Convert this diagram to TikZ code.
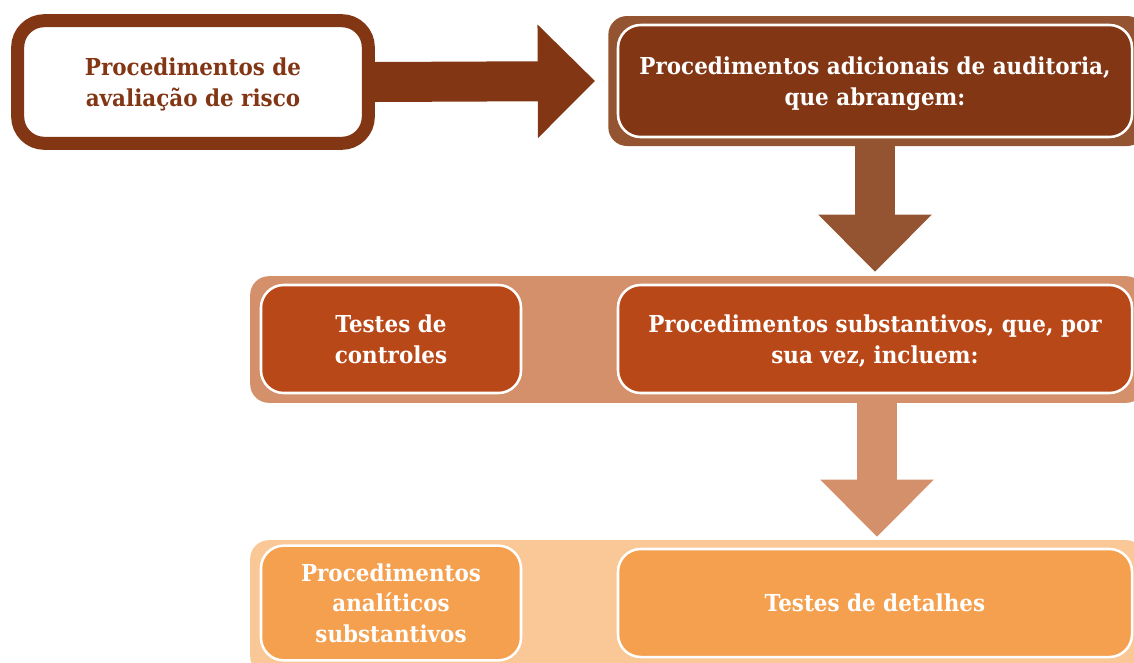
\documentclass[tikz,border=0pt]{standalone}
\usepackage{fontspec}
\setmainfont{DejaVu Serif}[FakeStretch=0.92]
\usetikzlibrary{arrows.meta,calc}
\definecolor{dbrown}{HTML}{823614}
\definecolor{fbrown}{HTML}{955431}
\definecolor{salmon}{HTML}{D4906A}
\definecolor{rust}{HTML}{B94819}
\definecolor{peach}{HTML}{F9C896}
\definecolor{orng}{HTML}{F4A04F}
\tikzset{
  txt/.style={align=center,font=\fontsize{17.5}{23}\selectfont\bfseries,text depth=0pt},
  frame/.style={rectangle,rounded corners=14,inner sep=0pt},
  inbox/.style={rectangle,rounded corners=17,draw=white,line width=1.9pt,inner sep=0pt,text=white,txt},
  blockarrow/.style={line width=30pt,-{Triangle[length=43pt,width=82.5pt]}},
}
\begin{document}
\begin{tikzpicture}[x=0.75pt,y=-0.75pt]
\clip (0,0) rectangle (1134,662);
\fill[white] (0,0) rectangle (1134,662);
% box 1
\node[rectangle,rounded corners=20,draw=dbrown,fill=white,line width=9.75pt,
      minimum width=263pt,minimum height=92pt,inner sep=0pt,txt,text=dbrown]
  (b1) at (193,82) {Procedimentos de\\avaliação de risco};
% box 2
\node[frame,fill=fbrown,minimum width=403pt,minimum height=97.5pt] (f2) at (877,81) {};
\node[inbox,fill=dbrown,minimum width=385.5pt,minimum height=84pt] (b2) at (875,81)
  {Procedimentos adicionais de auditoria,\\que abrangem:};
% row 2
\node[frame,fill=salmon,minimum width=671pt,minimum height=95pt] (r2) at (697.5,339.5) {};
\node[inbox,fill=rust,minimum width=195pt,minimum height=81pt] (c1) at (391,339) {Testes de\\controles};
\node[inbox,fill=rust,minimum width=385.5pt,minimum height=81pt] (c2) at (875,339)
  {Procedimentos substantivos, que, por\\sua vez, incluem:};
% row 3
\node[frame,fill=peach,minimum width=671pt,minimum height=101pt] (r3) at (697.5,607.5) {};
\node[inbox,fill=orng,minimum width=195pt,minimum height=86pt] (d1) at (391,603)
  {Procedimentos\\analíticos\\substantivos};
\node[inbox,fill=orng,minimum width=385.5pt,minimum height=81pt] (d2) at (875,603)
  {Testes de detalhes};
% arrows
\coordinate (t1) at ($(f2.west)+(-13,0)$);
\draw[blockarrow,draw=dbrown,fill=dbrown] (b1.east) -- (t1);
\coordinate (s2) at (f2.south -| b2.south);
\coordinate (t2) at ($(r2.north -| b2.south)+(0,-4)$);
\draw[blockarrow,draw=fbrown,fill=fbrown] (s2) -- (t2);
\coordinate (s3) at ($(r2.south -| c2.south)+(2,0)$);
\coordinate (t3) at ($(r3.north -| c2.south)+(2,-3)$);
\draw[blockarrow,draw=salmon,fill=salmon] (s3) -- (t3);
\end{tikzpicture}
\end{document}
